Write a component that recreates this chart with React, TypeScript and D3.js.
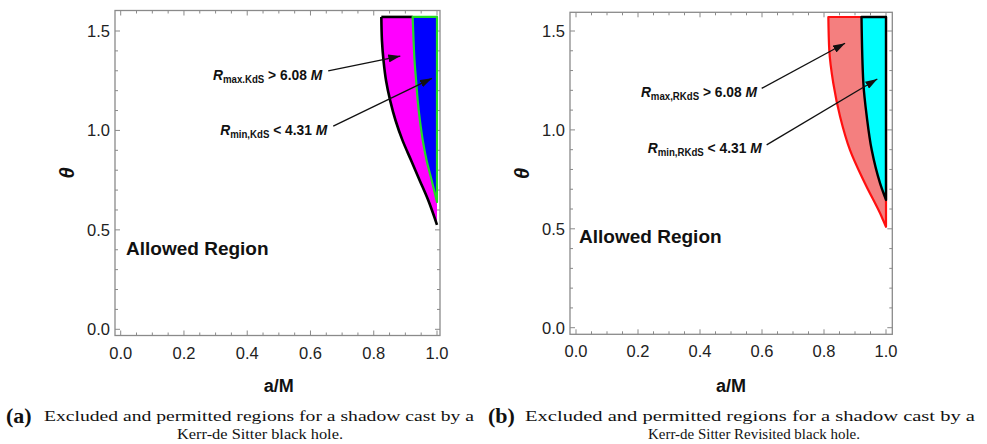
import React from "react";
import * as d3 from "d3";

// ---- data ----
const aTicks = [0, 0.2, 0.4, 0.6, 0.8, 1.0];
const thetaTicks = [0, 0.5, 1.0, 1.5];
const aMinorStep = 0.05;
const thetaMinorStep = 0.1;
const thetaTop = Math.PI / 2;

// Kerr-de Sitter: R_max boundary (outer, black) and R_min boundary (inner, green)
const kdsMaxTheta = [1.5708, 1.45, 1.35, 1.25, 1.15, 1.05, 0.95, 0.85, 0.75, 0.65, 0.525];
const kdsMaxA = [0.824, 0.826, 0.831, 0.839, 0.852, 0.869, 0.891, 0.918, 0.945, 0.972, 1.0];
const kdsMinTheta = [1.5708, 1.45, 1.35, 1.25, 1.15, 1.05, 0.95, 0.85, 0.75, 0.64];
const kdsMinA = [0.923, 0.926, 0.929, 0.934, 0.939, 0.946, 0.955, 0.967, 0.983, 1.0];

// Kerr-de Sitter Revisited: R_max boundary (red) and R_min boundary (black)
const rkdsMaxTheta = [1.5708, 1.404, 1.236, 1.067, 0.898, 0.73, 0.561, 0.51];
const rkdsMaxA = [0.814, 0.817, 0.83, 0.852, 0.884, 0.932, 0.986, 1.0];
const rkdsMinTheta = [1.5708, 1.236, 1.067, 0.898, 0.73, 0.646];
const rkdsMinA = [0.921, 0.927, 0.938, 0.954, 0.981, 1.0];

// annotations: [aStart, thetaStart, aEnd, thetaEnd]
const kdsArrows = [
  [0.656, 1.299, 0.884, 1.374],
  [0.672, 1.022, 0.984, 1.262],
];
const rkdsArrows = [
  [0.599, 1.21, 0.868, 1.438],
  [0.615, 0.924, 0.972, 1.257],
];
const kdsLabels = [
  { a: 0.637, t: 1.253, sub: "max.KdS", rel: " > 6.08 " },
  { a: 0.653, t: 0.977, sub: "min,KdS", rel: " < 4.31 " },
];
const rkdsLabels = [
  { a: 0.584, t: 1.166, sub: "max,RKdS", rel: " > 6.08 " },
  { a: 0.599, t: 0.883, sub: "min,RKdS", rel: " < 4.31 " },
];
const allowedKds = { a: 0.017, t: 0.374 };
const allowedRkds = { a: 0.01, t: 0.428 };

const captionLine1 = "Excluded and permitted regions for a shadow cast by a";
const captionA2 = "Kerr-de Sitter black hole.";
const captionB2 = "Kerr-de Sitter Revisited black hole.";

type Panel = {
  x0: number; x1: number; y0: number; y1: number;
  fl: number; fr: number; ft: number; fb: number;
};

const zip = (t: number[], a: number[]) => t.map((tt, i) => [a[i], tt] as [number, number]);

function Frame({ p, xs, ys }: { p: Panel; xs: any; ys: any }) {
  const ticks: any[] = [];
  const col = "#8a8a8a";
  for (let i = 0; i <= 20; i++) {
    const v = i * aMinorStep;
    const major = i % 4 === 0;
    const len = major ? 5 : 3;
    const X = xs(v);
    ticks.push(<line key={"b" + i} x1={X} x2={X} y1={p.fb} y2={p.fb - len} stroke={col} strokeWidth={1} />);
    ticks.push(<line key={"t" + i} x1={X} x2={X} y1={p.ft} y2={p.ft + len} stroke={col} strokeWidth={1} />);
  }
  for (let i = 0; i <= 15; i++) {
    const v = i * thetaMinorStep;
    const major = i % 5 === 0;
    const len = major ? 5 : 3;
    const Y = ys(v);
    ticks.push(<line key={"l" + i} x1={p.fl} x2={p.fl + len} y1={Y} y2={Y} stroke={col} strokeWidth={1} />);
    ticks.push(<line key={"r" + i} x1={p.fr} x2={p.fr - len} y1={Y} y2={Y} stroke={col} strokeWidth={1} />);
  }
  return (
    <g>
      <rect x={p.fl} y={p.ft} width={p.fr - p.fl} height={p.fb - p.ft} fill="none" stroke={col} strokeWidth={1.3} />
      {ticks}
      {aTicks.map((v) => (
        <text key={"xl" + v} x={xs(v)} y={p.fb + 23} textAnchor="middle" fontSize={16.5} fill="#222"
          fontFamily="Liberation Sans, Arial, sans-serif">{v.toFixed(1)}</text>
      ))}
      {thetaTicks.map((v) => (
        <text key={"yl" + v} x={p.fl - 5} y={ys(v) + 6} textAnchor="end" fontSize={16.5} fill="#222"
          fontFamily="Liberation Sans, Arial, sans-serif">{v.toFixed(1)}</text>
      ))}
    </g>
  );
}

function Label({ x, y, sub, rel }: { x: number; y: number; sub: string; rel: string }) {
  return (
    <g transform={`translate(${x},${y}) scale(0.92,1)`}>
      <text x={0} y={0} textAnchor="end" fontFamily="Liberation Sans, Arial, sans-serif" fontWeight="bold" fontSize={15} fill="#111">
        <tspan fontStyle="italic">R</tspan>
        <tspan fontSize={10.5} dy={3}>{sub}</tspan>
        <tspan dy={-3}>{rel}</tspan>
        <tspan fontStyle="italic">M</tspan>
      </text>
    </g>
  );
}

function Chart({ p, kind }: { p: Panel; kind: "a" | "b" }) {
  const xs = d3.scaleLinear().domain([0, 1]).range([p.x0, p.x1]);
  const ys = d3.scaleLinear().domain([0, 1.5]).range([p.y0, p.y1]);
  const curve = d3.line<[number, number]>().x((d) => xs(d[0])).y((d) => ys(d[1])).curve(d3.curveMonotoneY);

  const outerPts = kind === "a" ? zip(kdsMaxTheta, kdsMaxA) : zip(rkdsMaxTheta, rkdsMaxA);
  const innerPts = kind === "a" ? zip(kdsMinTheta, kdsMinA) : zip(rkdsMinTheta, rkdsMinA);
  const closeRight = `L${xs(1)},${ys(thetaTop)}Z`;
  const outerPoly = curve(outerPts)! + closeRight;
  const innerPoly = curve(innerPts)! + closeRight;

  const outerFill = kind === "a" ? "#ff00ff" : "#f47f7f";
  const innerFill = kind === "a" ? "#0000ff" : "#00ffff";
  const arrows = kind === "a" ? kdsArrows : rkdsArrows;
  const labels = kind === "a" ? kdsLabels : rkdsLabels;
  const allowed = kind === "a" ? allowedKds : allowedRkds;
  const mid = "arr" + kind;

  return (
    <g>
      <defs>
        <marker id={mid} viewBox="0 0 12 8" refX={12} refY={4} markerWidth={12} markerHeight={8} markerUnits="userSpaceOnUse" orient="auto">
          <path d="M0,0 L12,4 L0,8 Z" fill="#111" />
        </marker>
      </defs>
      <Frame p={p} xs={xs} ys={ys} />
      <path d={outerPoly} fill={outerFill} stroke="none" />
      {kind === "a" ? (
        <g>
          <path d={curve(outerPts)!} fill="none" stroke="#000" strokeWidth={2.6} />
          <line x1={xs(outerPts[0][0])} x2={xs(innerPts[0][0])} y1={ys(thetaTop)} y2={ys(thetaTop)} stroke="#000" strokeWidth={2.6} />
          <path d={innerPoly} fill={innerFill} stroke="#22dd22" strokeWidth={2.2} strokeLinejoin="round" />
        </g>
      ) : (
        <g>
          <path d={outerPoly} fill="none" stroke="#ff1010" strokeWidth={2.2} strokeLinejoin="round" />
          <path d={innerPoly} fill={innerFill} stroke="#000" strokeWidth={2.4} strokeLinejoin="round" />
        </g>
      )}
      {arrows.map((ar, i) => (
        <line key={"ar" + i} x1={xs(ar[0])} y1={ys(ar[1])} x2={xs(ar[2])} y2={ys(ar[3])} stroke="#111" strokeWidth={1.3} markerEnd={`url(#${mid})`} />
      ))}
      {labels.map((l, i) => (
        <Label key={"lb" + i} x={xs(l.a)} y={ys(l.t)} sub={l.sub} rel={l.rel} />
      ))}
      <text x={xs(allowed.a)} y={ys(allowed.t)} fontFamily="Liberation Sans, Arial, sans-serif" fontWeight="bold" fontSize={19} fill="#111">Allowed Region</text>
      <text transform={`translate(${p.fl - 48},${(p.ft + p.fb) / 2}) rotate(-90)`} textAnchor="middle"
        fontFamily="Liberation Sans, Arial, sans-serif" fontWeight="bold" fontStyle="italic" fontSize={20} fill="#111" dy={7}>θ</text>
      <text x={(xs(0) + xs(1)) / 2} y={392} textAnchor="middle" fontFamily="Liberation Sans, Arial, sans-serif"
        fontWeight="bold" fontSize={18} fill="#111">a/M</text>
    </g>
  );
}

const panelA: Panel = { x0: 120.7, x1: 437, y0: 329.3, y1: 31, fl: 115, fr: 440, ft: 10.5, fb: 335.5 };
const panelB: Panel = { x0: 576, x1: 886, y0: 327.7, y1: 31, fl: 570, fr: 892.3, ft: 12.3, fb: 334.3 };

export default function App() {
  const serif = "Liberation Serif, DejaVu Serif, serif";
  return (
    <svg width={987} height={444} style={{ position: "absolute", left: 0, top: 0, background: "#fff" }}>
      <rect width={987} height={444} fill="#fff" />
      <Chart p={panelA} kind="a" />
      <Chart p={panelB} kind="b" />
      <text x={6} y={423} fontFamily={serif} fontWeight="bold" fontSize={22} fill="#111">(a)</text>
      <text x={44} y={421} fontFamily={serif} fontSize={15.5} fill="#111" textLength={430} lengthAdjust="spacingAndGlyphs">{captionLine1}</text>
      <text x={260} y={439} textAnchor="middle" fontFamily={serif} fontSize={15.5} fill="#111" textLength={166} lengthAdjust="spacingAndGlyphs">{captionA2}</text>
      <text x={488} y={423} fontFamily={serif} fontWeight="bold" fontSize={22} fill="#111">(b)</text>
      <text x={525} y={421} fontFamily={serif} fontSize={15.5} fill="#111" textLength={450} lengthAdjust="spacingAndGlyphs">{captionLine1}</text>
      <text x={754} y={439} textAnchor="middle" fontFamily={serif} fontSize={15.5} fill="#111" textLength={212} lengthAdjust="spacingAndGlyphs">{captionB2}</text>
    </svg>
  );
}
